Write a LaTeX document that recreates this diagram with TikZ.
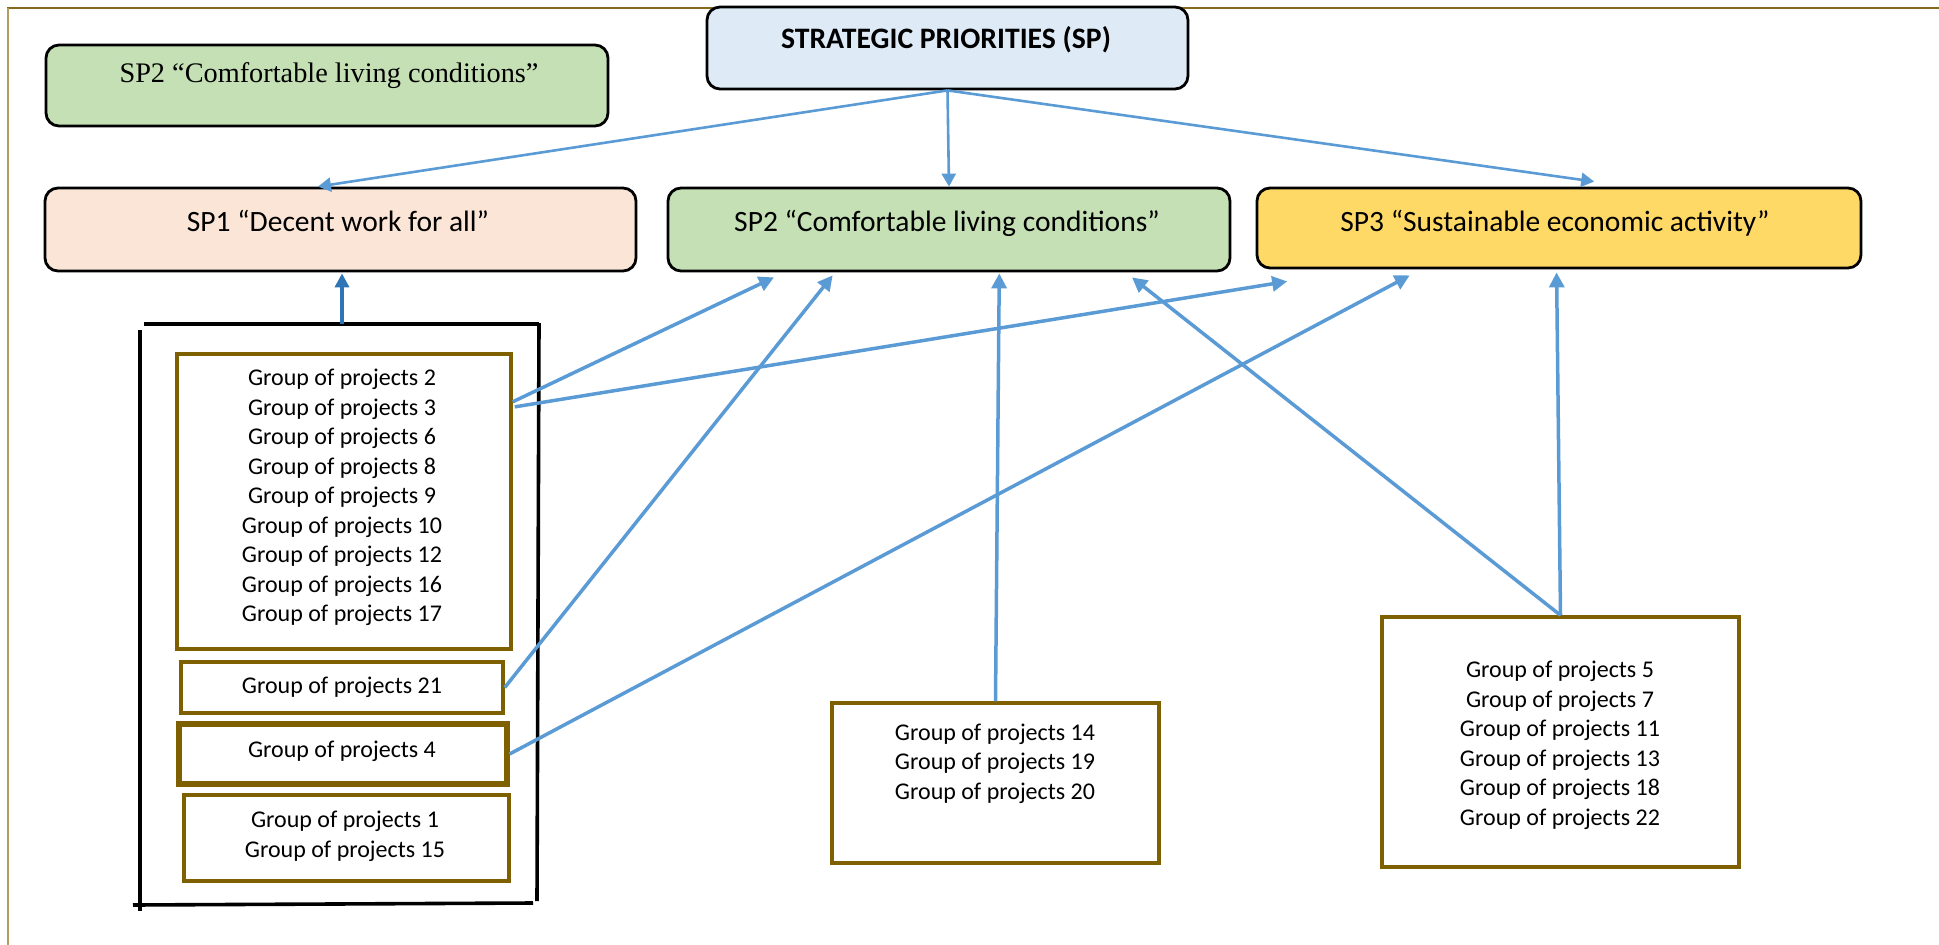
\documentclass[tikz,border=0pt]{standalone}
\usepackage{fontspec}
\setmainfont{Carlito}
\newfontfamily\serifface{Liberation Serif}
\usetikzlibrary{arrows.meta,calc}

\definecolor{olivegold}{HTML}{7F6000}
\definecolor{frametop}{HTML}{86691A}
\definecolor{frameleft}{HTML}{B39D5F}
\definecolor{peach}{HTML}{FBE5D6}
\definecolor{sage}{HTML}{C5E0B4}
\definecolor{butter}{HTML}{FFD966}
\definecolor{paleblue}{HTML}{DEEBF7}
\definecolor{linkblue}{HTML}{5B9BD5}
\definecolor{deepblue}{HTML}{2E75B6}

\tikzset{
  spbox/.style={draw=black, line width=2.8pt, rounded corners=13pt, inner sep=0pt},
  grpbox/.style={draw=olivegold, line width=3.5pt, inner sep=0pt, fill=white},
  sptext/.style={font=\fontsize{29.5}{34}\selectfont, inner sep=0pt, anchor=base},
  grptext/.style={font=\fontsize{24}{29.5}\selectfont, align=center, inner sep=0pt},
  link/.style={draw=linkblue, line width=3.5pt, -{Triangle[length=15pt,width=15pt]}},
  toplink/.style={draw=linkblue, line width=2.6pt, -{Triangle[length=13pt,width=14pt]}},
  uplink/.style={draw=deepblue, line width=3.8pt, -{Triangle[length=14pt,width=14pt]}},
  containerline/.style={draw=black, line width=3.6pt},
}

\begin{document}
\begin{tikzpicture}[x=1pt, y=-1pt]
\useasboundingbox (0,0) rectangle (1939,945);

% page frame
\draw[frametop, line width=2.5pt] (7,8) -- (1939,8);
\draw[frameleft, line width=2.5pt] (8,8) -- (8,945);

% strategic priorities and the three priority boxes
\node[spbox, fill=sage, minimum width=562pt, minimum height=81pt] (sp2a) at (327,85.5) {};
\node[sptext, font=\serifface\fontsize{28.3}{34}\selectfont] (sp2a-text) at (329,82) {SP2 “Comfortable living conditions”};

\node[spbox, fill=paleblue, minimum width=481pt, minimum height=82pt] (top) at (947.5,48) {};
\node[sptext, font=\bfseries\fontsize{29.7}{34}\selectfont] (top-text) at (946,48) {STRATEGIC PRIORITIES (SP)};

\node[spbox, fill=peach, minimum width=591pt, minimum height=83pt] (sp1) at (340.5,229.5) {};
\node[sptext] (sp1-text) at (338,231) {SP1 “Decent work for all”};

\node[spbox, fill=sage, minimum width=562pt, minimum height=83pt] (sp2) at (949,229.5) {};
\node[sptext] (sp2-text) at (947,231) {SP2 “Comfortable living conditions”};

\node[spbox, fill=butter, minimum width=604pt, minimum height=80pt] (sp3) at (1559,228) {};
\node[sptext] (sp3-text) at (1555,231) {SP3 “Sustainable economic activity”};

% container around the first groups
\coordinate (ctop) at (342,324);
\draw[containerline] (144,324) -- (539,324);
\draw[containerline] (539,323) -- (537,901);
\draw[containerline] (140,330) -- (140,911);
\draw[containerline] (133,905) -- (533,903);

% groups of projects
\node[grpbox, minimum width=334pt, minimum height=295pt] (gA) at (344,501.5) {};
\node[grptext] (gA-text) at (342,497.5) {Group of projects 2\\Group of projects 3\\Group of projects 6\\Group of projects 8\\Group of projects 9\\Group of projects 10\\Group of projects 12\\Group of projects 16\\Group of projects 17};

\node[grpbox, minimum width=322pt, minimum height=51pt] (g21) at (342,687.5) {};
\node[grptext] (g21-text) at (342,687) {Group of projects 21};

\node[grpbox, line width=5.2pt, minimum width=328pt, minimum height=60pt] (g4) at (343,754) {};
\node[grptext] (g4-text) at (342,751) {Group of projects 4};

\node[grpbox, minimum width=325pt, minimum height=86pt] (g1) at (346.5,838) {};
\node[grptext] (g1-text) at (345,836.5) {Group of projects 1\\Group of projects 15};

\node[grpbox, minimum width=327pt, minimum height=160pt] (gM) at (995.5,783) {};
\node[grptext] (gM-text) at (995,763.5) {Group of projects 14\\Group of projects 19\\Group of projects 20};

\node[grpbox, minimum width=357pt, minimum height=250pt] (gR) at (1560.5,742) {};
\node[grptext] (gR-text) at (1560,745.5) {Group of projects 5\\Group of projects 7\\Group of projects 11\\Group of projects 13\\Group of projects 18\\Group of projects 22};

% from the strategic priorities down to each priority
\draw[toplink] (top.south) -- ($(sp1.north west)!0.462!(sp1.north east)$);
\draw[toplink] (top.south) -- (sp2.north);
\draw[toplink] (top.south) -- ($(sp3.north west)!0.558!(sp3.north east)+(0,-5)$);

% from the groups up to the priorities
\draw[uplink] (ctop) -- ($(sp1.south)+(1.5,1)$);
\draw[link] ($(gA.north east)!0.166!(gA.south east)$) -- ($(sp2.south west)!0.19!(sp2.south east)+(0,5)$);
\draw[link] ($(gA.north east)!0.183!(gA.south east)+(2,0)$) -- ($(sp3.south west)!0.052!(sp3.south east)+(0,12)$);
\draw[link] (g21.east) -- ($(sp2.south west)!0.294!(sp2.south east)+(0,3)$);
\draw[link] (g4.east) -- ($(sp3.south west)!0.254!(sp3.south east)+(0,6)$);
\draw[link] (gM.north) -- ($(sp2.south west)!0.589!(sp2.south east)+(0,1)$);
\draw[link] (gR.north) -- ($(sp2.south west)!0.824!(sp2.south east)+(0,5)$);
\draw[link] (gR.north) -- ($(sp3.south west)!0.496!(sp3.south east)+(0,3)$);
\end{tikzpicture}
\end{document}
